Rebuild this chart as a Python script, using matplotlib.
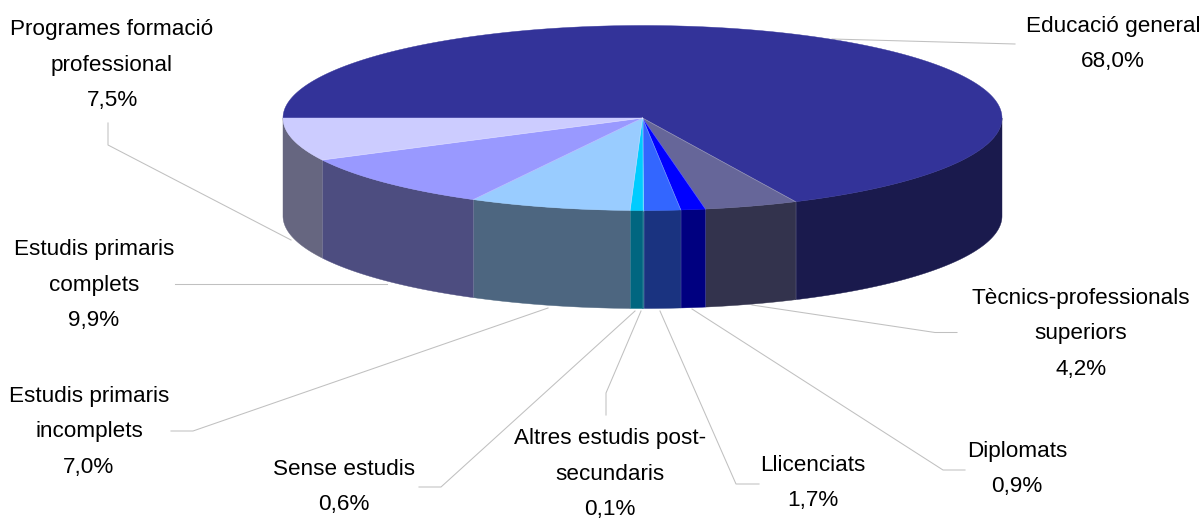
import numpy as np
import matplotlib
matplotlib.use("Agg")
import matplotlib.pyplot as plt

plt.rcParams["font.family"] = ["Liberation Sans", "DejaVu Sans"]

names = ["Educació general", "Tècnics-professionals\nsuperiors", "Diplomats", "Llicenciats",
         "Altres estudis post-\nsecundaris", "Sense estudis", "Estudis primaris\nincomplets",
         "Estudis primaris\ncomplets", "Programes formació\nprofessional"]
labels_pct = ["68,0%", "4,2%", "0,9%", "1,7%", "0,1%", "0,6%", "7,0%", "9,9%", "7,5%"]
# slice sizes as drawn (the labels are rounded differently)
shares = [68.0, 4.2, 1.1, 1.65, 0.05, 0.55, 7.25, 9.7, 7.5]
top_colors = ["#333399", "#666699", "#0000FF", "#3366FF", "#00CCFF", "#00CCFF", "#99CCFF", "#9999FF", "#CCCCFF"]
side_colors = ["#1A1A4D", "#33334D", "#000080", "#1A3380", "#006680", "#006680", "#4D6680", "#4D4D80", "#666680"]

label_x = [1113, 1081, 1017, 813, 610, 344, 89, 94, 112]
label_y = [44, 334, 469, 483, 474, 487, 432, 285, 65]

leaders = [
    [(832, 39), (1015, 44)],
    [(752, 305), (935, 332.5), (957, 332.5)],
    [(692, 309), (943, 470), (965, 470)],
    [(660, 311), (736, 484), (759, 484)],
    [(641, 311), (606, 393), (606, 415)],
    [(635, 311), (441, 487), (419, 487)],
    [(548, 308), (193, 431), (171, 431)],
    [(387, 284), (175, 284)],
    [(291, 240), (108, 145), (108, 123)],
]

cx, cy = 642.5, 118
rx, ry = 359.5, 92.5
depth = 98

fig, ax = plt.subplots(figsize=(12.04, 5.2), dpi=100)
fig.subplots_adjust(0, 0, 1, 1)
ax.set_xlim(0, 1204)
ax.set_ylim(520, 0)
ax.axis("off")


def arc(a0, a1):
    # y axis points down, so growing angles run clockwise on screen
    t = np.radians(np.linspace(a0, a1, max(int(abs(a1 - a0) * 2), 2)))
    return cx + rx * np.cos(t), cy + ry * np.sin(t)


ends = 180 + np.cumsum(shares) * 3.6
starts = np.r_[180, ends[:-1]]

for i in range(len(shares)):
    x, y = arc(starts[i], ends[i])
    ax.fill(np.r_[cx, x], np.r_[cy, y], color=top_colors[i], lw=0.3, zorder=3)

    # only the front half (360 to 540 degrees here) has a visible wall
    f0, f1 = max(starts[i], 360), min(ends[i], 540)
    if f1 > f0:
        x, y = arc(f0, f1)
        ax.fill(np.r_[x, x[::-1]], np.r_[y, y[::-1] + depth], color=side_colors[i], lw=0.3, zorder=2)

# faint seams between the slices
for a in starts[1:]:
    t = np.radians(a)
    ex, ey = cx + rx * np.cos(t), cy + ry * np.sin(t)
    ax.plot([cx, ex], [cy, ey], color="white", alpha=0.25, lw=0.6, zorder=4)
    ax.plot([ex, ex], [ey, ey + depth], color="white", alpha=0.12, lw=0.6, zorder=4)

for pts in leaders:
    xs, ys = zip(*pts)
    ax.plot(xs, ys, color="#C0C0C0", lw=0.75, zorder=1, solid_joinstyle="miter")

for n, p, x, y in zip(names, labels_pct, label_x, label_y):
    ax.text(x, y, n + "\n" + p, ha="center", va="center", ma="center", fontsize=16.2,
            linespacing=1.9, color="black", zorder=5)

fig.savefig("out.png", dpi=100)
